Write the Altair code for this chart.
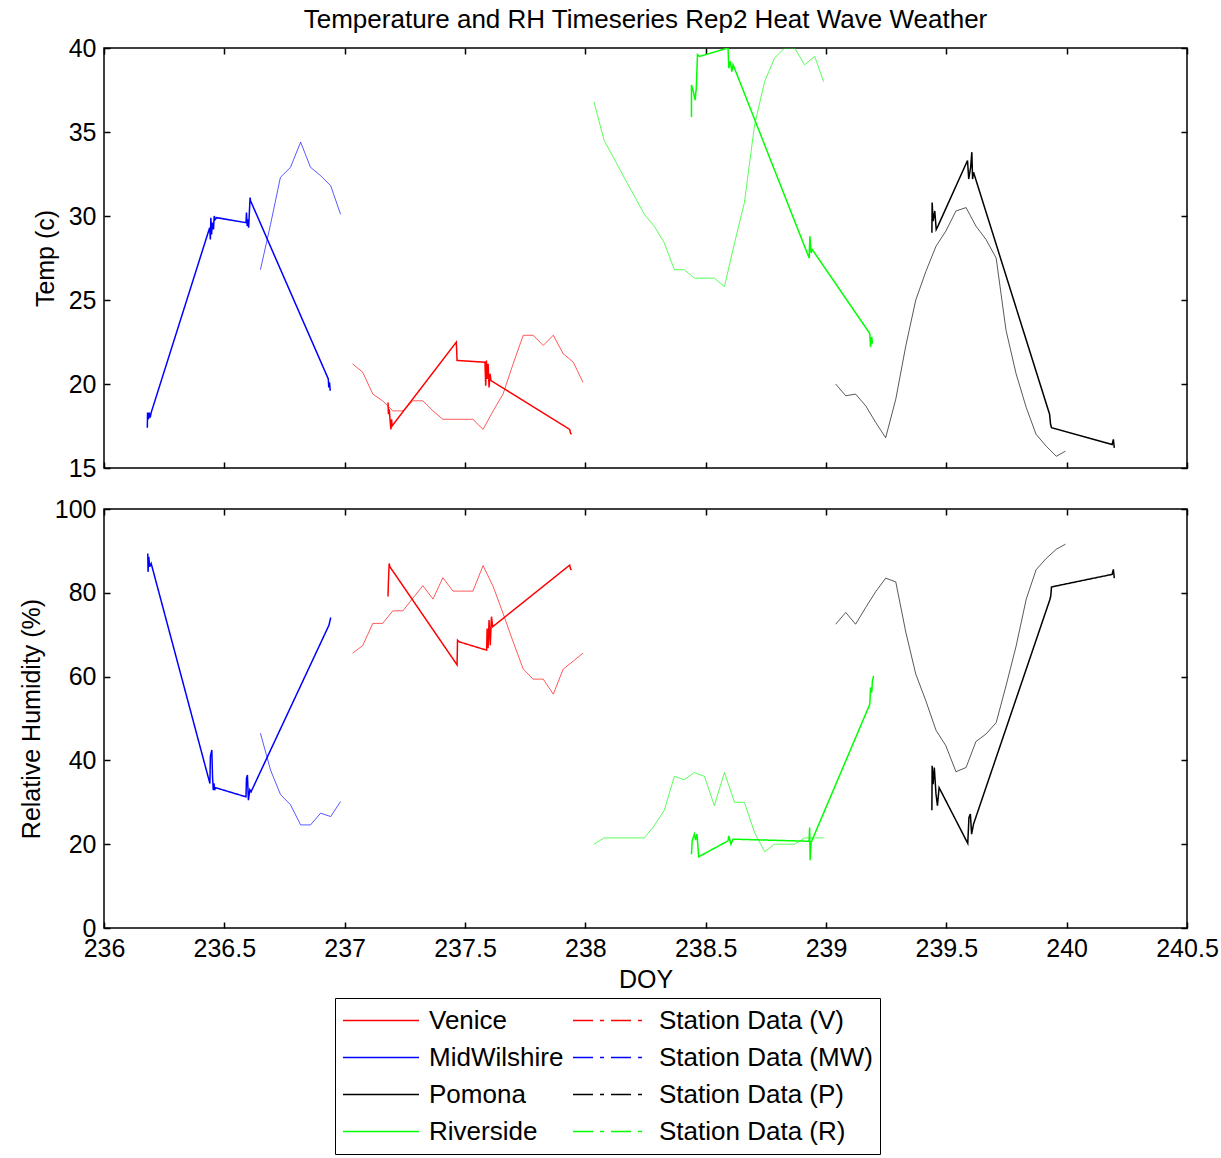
import altair as alt
import pandas as pd

FONT = "Liberation Sans"

SERIES = ["Venice", "MidWilshire", "Pomona", "Riverside",
          "Station Data (V)", "Station Data (MW)", "Station Data (P)", "Station Data (R)"]
COLORS = ["#FF0000", "#0000FF", "#000000", "#00FF00",
          "#FF0000", "#0000FF", "#000000", "#00FF00"]
DASHES = [[1, 0], [1, 0], [1, 0], [1, 0],
          [20, 7, 4, 7], [20, 7, 4, 7], [20, 7, 4, 7], [20, 7, 4, 7]]

X_TICKS = [236, 236.5, 237, 237.5, 238, 238.5, 239, 239.5, 240, 240.5]
T_TICKS = [15, 20, 25, 30, 35, 40]
RH_TICKS = [0, 20, 40, 60, 80, 100]

# ---------------- Station data (hourly) ----------------
MW_ST_DOY = [236.650, 236.692, 236.733, 236.775, 236.817, 236.858, 236.900, 236.942, 236.983]
MW_ST_T = [26.8, 29.5, 32.3, 32.9, 34.4, 32.9, 32.4, 31.8, 30.1]
MW_ST_RH = [46.5, 37.7, 31.9, 29.4, 24.6, 24.6, 27.4, 26.6, 30.2]

V_ST_DOY = [237.033, 237.075, 237.117, 237.158, 237.200, 237.242, 237.283, 237.325,
            237.367, 237.408, 237.450, 237.492, 237.533, 237.575, 237.617, 237.658,
            237.700, 237.742, 237.783, 237.825, 237.867, 237.908, 237.950, 237.990]
V_ST_T = [21.2, 20.7, 19.4, 19.0, 18.4, 18.4, 19.0, 19.0, 18.4, 17.9, 17.9, 17.9,
          17.9, 17.3, 18.4, 19.4, 21.2, 22.9, 22.9, 22.3, 22.9, 21.8, 21.3, 20.1]
V_ST_RH = [65.6, 67.4, 72.7, 72.7, 75.7, 75.7, 78.7, 81.7, 78.5, 83.6, 80.4, 80.4,
           80.4, 86.5, 81.5, 75.1, 68.3, 61.8, 59.4, 59.4, 55.8, 61.8, 63.7, 65.6]

R_ST_DOY = [238.036, 238.078, 238.120, 238.161, 238.203, 238.245, 238.286, 238.328,
            238.370, 238.411, 238.453, 238.495, 238.536, 238.578, 238.620, 238.661,
            238.703, 238.745, 238.786, 238.828, 238.870, 238.911, 238.953, 238.990]
R_ST_T = [36.8, 34.5, 33.4, 32.3, 31.2, 30.1, 29.4, 28.4, 26.8, 26.8, 26.3, 26.3,
          26.3, 25.8, 28.4, 30.8, 35.4, 38.0, 39.4, 40.0, 40.0, 39.0, 39.5, 38.0]
R_ST_RH = [20.0, 21.5, 21.5, 21.5, 21.5, 21.5, 24.4, 28.1, 36.2, 35.4, 37.1, 36.2,
           29.2, 37.1, 30.0, 30.0, 22.8, 18.2, 20.0, 20.0, 20.0, 21.5, 21.5, 21.5]

P_ST_DOY = [239.040, 239.082, 239.123, 239.165, 239.207, 239.248, 239.290, 239.332,
            239.373, 239.415, 239.457, 239.498, 239.540, 239.582, 239.623, 239.665,
            239.707, 239.748, 239.790, 239.832, 239.873, 239.915, 239.957, 239.995]
P_ST_T = [20.0, 19.3, 19.4, 18.7, 17.7, 16.8, 19.1, 22.3, 25.0, 26.7, 28.2, 29.1,
          30.3, 30.5, 29.4, 28.6, 27.5, 23.2, 20.6, 18.6, 17.0, 16.3, 15.7, 16.0]
P_ST_RH = [72.5, 75.3, 72.5, 76.5, 80.3, 83.5, 82.6, 70.5, 60.6, 54.2, 47.2, 43.5,
           37.3, 38.3, 44.5, 46.3, 49.0, 57.8, 67.3, 78.5, 85.5, 88.2, 90.4, 91.6]

# ---------------- Measured data ----------------
MW_T_DOY = [236.180, 236.181, 236.185, 236.188, 236.192, 236.196,
            236.439, 236.442, 236.444, 236.447, 236.450, 236.455, 236.458, 236.462, 236.468,
            236.590, 236.592, 236.595, 236.598, 236.601, 236.607, 236.609,
            236.932, 236.934, 236.937, 236.940]
MW_T = [17.4, 18.3, 17.9, 18.3, 18.0, 18.3,
        29.3, 28.6, 29.9, 28.9, 29.6, 29.2, 30.0, 29.8, 29.9,
        29.6, 30.2, 29.4, 29.8, 29.3, 31.1, 30.9,
        20.3, 19.8, 20.1, 19.6]
MW_RH_DOY = [236.182, 236.183, 236.186, 236.190, 236.196,
             236.440, 236.442, 236.445, 236.448, 236.451, 236.454, 236.457, 236.460, 236.463,
             236.590, 236.592, 236.596, 236.600, 236.606, 236.611,
             236.935, 236.938, 236.942]
MW_RH = [89.4, 85.0, 88.6, 86.2, 87.0,
         34.5, 40.9, 41.7, 42.5, 36.1, 32.9, 34.5, 32.9, 33.5,
         31.3, 35.7, 36.5, 30.5, 33.0, 32.5,
         72.3, 73.1, 74.1]

V_T_DOY = [237.180, 237.182, 237.185, 237.192, 237.195, 237.197,
           237.464, 237.467, 237.470,
           237.583, 237.586, 237.589, 237.592, 237.596, 237.600, 237.604, 237.608,
           237.935, 237.938, 237.942]
V_T = [18.9, 18.2, 18.5, 17.3, 17.9, 17.5,
       22.5, 21.4, 21.4,
       21.3, 19.9, 21.4, 20.3, 21.2, 19.8, 20.6, 20.2,
       17.3, 17.1, 17.0]
V_RH_DOY = [237.180, 237.182, 237.185, 237.188,
            237.467, 237.469, 237.476,
            237.590, 237.592, 237.596, 237.600, 237.605, 237.610, 237.615,
            237.935, 237.938, 237.942]
V_RH = [79.1, 83.0, 87.0, 86.2,
        62.8, 68.7, 68.3,
        66.3, 71.5, 66.8, 73.5, 67.5, 74.3, 71.9,
        86.6, 85.8, 85.4]

R_T_DOY = [238.441, 238.441, 238.449, 238.456, 238.461, 238.466, 238.474,
           238.593, 238.596, 238.602, 238.609, 238.614,
           238.930, 238.933, 238.938, 238.943,
           239.182, 239.185, 239.190, 239.193]
R_T = [35.9, 37.8, 37.4, 36.9, 37.6, 39.6, 39.5,
       40.0, 38.8, 39.2, 38.6, 39.0,
       27.5, 28.8, 27.8, 28.0,
       23.0, 22.2, 22.8, 22.4]
R_RH_DOY = [238.441, 238.444, 238.453, 238.458, 238.464, 238.471,
            238.593, 238.596, 238.605, 238.614,
            238.930, 238.932, 238.934, 238.938,
            239.182, 239.185, 239.190, 239.193, 239.198]
R_RH = [17.6, 20.8, 22.4, 21.0, 22.4, 17.0,
        20.8, 22.0, 20.0, 21.2,
        20.7, 24.0, 16.2, 20.4,
        53.4, 57.4, 56.2, 59.0, 60.2]

P_T_DOY = [239.440, 239.441, 239.445, 239.452, 239.458, 239.465,
           239.588, 239.593, 239.601, 239.606, 239.609, 239.613,
           239.929, 239.933, 239.937,
           240.189, 240.194, 240.198]
P_T = [29.0, 30.8, 29.7, 30.3, 29.2, 29.4,
       33.3, 32.2, 32.9, 33.8, 32.2, 32.6,
       18.2, 17.6, 17.4,
       16.4, 16.7, 16.2]
P_RH_DOY = [239.440, 239.441, 239.445, 239.450, 239.457, 239.463, 239.470,
            239.589, 239.594, 239.600, 239.605, 239.613,
            239.931, 239.934, 239.937,
            240.189, 240.194, 240.198]
P_RH = [28.1, 38.7, 34.3, 38.3, 32.0, 29.2, 33.5,
        20.2, 26.4, 27.2, 22.4, 24.8,
        78.5, 79.3, 81.4,
        84.4, 85.6, 83.5]


def frame(pairs):
    rows = []
    for name, xs, ys in pairs:
        for i, (x, y) in enumerate(zip(xs, ys)):
            rows.append({"doy": x, "val": y, "series": name, "seq": i})
    return pd.DataFrame(rows)


meas_t = frame([("Venice", V_T_DOY, V_T), ("MidWilshire", MW_T_DOY, MW_T),
                ("Pomona", P_T_DOY, P_T), ("Riverside", R_T_DOY, R_T)])
meas_rh = frame([("Venice", V_RH_DOY, V_RH), ("MidWilshire", MW_RH_DOY, MW_RH),
                 ("Pomona", P_RH_DOY, P_RH), ("Riverside", R_RH_DOY, R_RH)])
st_t = frame([("Station Data (V)", V_ST_DOY, V_ST_T), ("Station Data (MW)", MW_ST_DOY, MW_ST_T),
              ("Station Data (P)", P_ST_DOY, P_ST_T), ("Station Data (R)", R_ST_DOY, R_ST_T)])
st_rh = frame([("Station Data (V)", V_ST_DOY, V_ST_RH), ("Station Data (MW)", MW_ST_DOY, MW_ST_RH),
               ("Station Data (P)", P_ST_DOY, P_ST_RH), ("Station Data (R)", R_ST_DOY, R_ST_RH)])

W = 1083

legend = alt.Legend(
    orient="none", legendX=231, legendY=489, columns=2,
    symbolType="stroke", symbolSize=5776, symbolStrokeWidth=1.5, symbolOpacity=1,
    labelFont=FONT, labelFontSize=26, labelColor="black", labelOffset=9, labelLimit=400,
    clipHeight=31, rowPadding=6, columnPadding=8,
    strokeColor="black", fillColor="white", padding=7,
)


def panel(meas_df, st_df, ydomain, yticks, ytitle, bottom, height):
    xs = alt.Scale(domain=[236, 240.5], nice=False, zero=False)
    ys = alt.Scale(domain=ydomain, nice=False, zero=False)
    cscale = alt.Scale(domain=SERIES, range=COLORS)
    ax_common = dict(domain=False, grid=False, offset=-6, tickSize=6, tickColor="black",
                     tickWidth=1.5, labelFlush=False, labelPadding=8,
                     labelExpr="datum.value + ''")
    x_bottom = alt.Axis(orient="bottom", values=X_TICKS, labels=bottom, titlePadding=6, **ax_common)
    y_left = alt.Axis(orient="left", values=yticks, titlePadding=10, **ax_common)
    x_top = alt.Axis(orient="top", values=X_TICKS, labels=False, **ax_common)
    y_right = alt.Axis(orient="right", values=yticks, labels=False, **ax_common)

    enc_meas = dict(
        x=alt.X("doy:Q", scale=xs, axis=x_bottom, title="DOY" if bottom else None),
        y=alt.Y("val:Q", scale=ys, axis=y_left, title=ytitle),
        order=alt.Order("seq:Q"),
    )
    if bottom:
        enc_meas["color"] = alt.Color("series:N", scale=cscale, legend=legend, title=None)
        enc_meas["strokeDash"] = alt.StrokeDash("series:N", scale=alt.Scale(domain=SERIES, range=DASHES),
                                                legend=legend, title=None)
    else:
        enc_meas["color"] = alt.Color("series:N", scale=cscale, legend=None)

    meas = alt.Chart(meas_df).mark_line(strokeWidth=1.5, clip=True).encode(**enc_meas)

    st = alt.Chart(st_df).mark_line(strokeWidth=1, opacity=0.65, clip=True).encode(
        x=alt.X("doy:Q", scale=xs, axis=x_top, title=None),
        y=alt.Y("val:Q", scale=ys, axis=y_right, title=None),
        color=alt.Color("series:N", scale=cscale, legend=legend if bottom else None,
                        title=None),
        order=alt.Order("seq:Q"),
    )
    ch = alt.layer(st, meas).resolve_axis(x="independent", y="independent").properties(
        width=W, height=height)
    return ch


top = panel(meas_t, st_t, [15, 40], T_TICKS, "Temp (c)", False, 420).properties(
    title=alt.TitleParams("Temperature and RH Timeseries Rep2 Heat Wave Weather",
                          font=FONT, fontSize=26, fontWeight="normal", color="black",
                          anchor="middle", frame="group", offset=3))
bottom = panel(meas_rh, st_rh, [0, 100], RH_TICKS, "Relative Humidity (%)", True, 419)

chart = alt.vconcat(top, bottom, spacing=41, bounds="flush").resolve_scale(
    x="independent", y="independent", color="independent", strokeDash="independent"
).properties(
    padding={"left": 18, "top": 6, "right": 0, "bottom": 0},
    background="white",
).configure_view(
    stroke="black", strokeWidth=1.5
).configure_axis(
    labelFont=FONT, labelFontSize=25, labelColor="black",
    titleFont=FONT, titleFontSize=25, titleFontWeight="normal", titleColor="black",
)

chart.save("out.html", embed_options={"renderer": "svg", "actions": False})
